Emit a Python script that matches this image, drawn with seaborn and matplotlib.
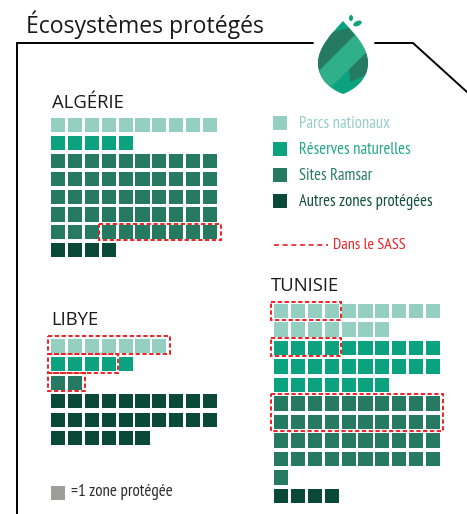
import numpy as np
import pandas as pd
import seaborn as sns
import matplotlib.pyplot as plt
from matplotlib.patches import Ellipse, PathPatch, Polygon
from matplotlib.path import Path

title = "Écosystèmes protégés"
categories = ["Parcs nationaux", "Réserves naturelles", "Sites Ramsar", "Autres zones protégées"]
colors = ["#94cfc1", "#0aa27f", "#267a62", "#0a4937"]
text_colors = ["#94cfc1", "#1fa884", "#267a62", "#0f4f3c"]
algerie = [10, 5, 50, 4]
libye = [7, 5, 2, 26]
tunisie = [17, 27, 41, 4]
sass_label = "Dans le SASS"
unit_label = "=1 zone protégée"
RED = "#ed2024"
NARROW = ["PT Sans Narrow", "Asap Condensed", "Open Sans"]


def waffle(counts, name, x0, y0, dy, dx=16.9, per_row=10):
    rows = []
    row = 0
    for cat, n in zip(categories, counts):
        for i in range(n):
            rows.append({"pays": name, "cat": cat,
                         "x": x0 + (i % per_row) * dx,
                         "y": y0 + (row + i // per_row) * dy})
        row += int(np.ceil(n / per_row))
    return pd.DataFrame(rows)


def dashed(ax, pts):
    ax.add_patch(Polygon(pts, closed=True, fill=False, ec=RED, lw=1.4, ls=(0, (2.2, 1.3))))


def leaf(ax):
    verts = [(343, 21), (333, 32), (318, 47), (318, 63), (318, 80), (332, 90), (343, 94),
             (354, 90), (368, 80), (368, 63), (368, 47), (353, 32), (343, 21)]
    codes = [Path.MOVETO] + [Path.CURVE4] * 12
    shape = PathPatch(Path(verts, codes), fc="#0aa27f", ec="none", zorder=3)
    ax.add_patch(shape)
    band = Polygon([(312, 78), (355, 35), (372, 47), (332, 86)], fc="#2fb08a", ec="none", zorder=5)
    ax.add_patch(band)
    band.set_clip_path(shape)
    for pts in ([(310, 80), (355, 35), (349, 28), (328, 33), (310, 50)],
                [(372, 47), (349, 68), (350, 82), (372, 72)]):
        part = Polygon(pts, fc="#267a62", ec="none", zorder=4)
        ax.add_patch(part)
        part.set_clip_path(shape)
    ax.add_patch(Ellipse((351, 18), 4, 6, fc="#0aa27f", ec="none", zorder=3))
    ax.add_patch(Ellipse((357.5, 23.5), 9, 5, angle=-25, fc="#0aa27f", ec="none", zorder=3))


def main():
    sns.set_style("white")
    plt.rcParams["font.family"] = ["Open Sans", "DejaVu Sans"]

    fig = plt.figure(figsize=(4.67, 5.14), dpi=100)
    ax = fig.add_axes([0, 0, 1, 1])

    df = pd.concat([
        waffle(algerie, "Algérie", 58, 125, 17.9),
        waffle(libye, "Libye", 58, 346, 18.4),
        waffle(tunisie, "Tunisie", 281, 311, 18.5),
    ])
    sns.scatterplot(data=df, x="x", y="y", hue="cat", hue_order=categories, palette=colors,
                    marker="s", s=102, linewidth=0, legend=False, ax=ax)

    # legende a la main
    leg_y = [123, 149, 175, 201]
    leg = pd.DataFrame({"cat": categories, "x": [280] * 4, "y": leg_y})
    sns.scatterplot(data=leg, x="x", y="y", hue="cat", hue_order=categories, palette=colors,
                    marker="s", s=102, linewidth=0, legend=False, ax=ax)
    for cat, col, y in zip(categories, text_colors, leg_y):
        ax.text(299, y + 1, cat, color=col, fontsize=11.9, family=NARROW, va="center")

    ax.plot([274, 328], [245, 245], color=RED, lw=1.2, ls=(0, (3, 2.2)))
    ax.text(333, 245, sass_label, color=RED, fontsize=11.5, family=NARROW, va="center")

    sns.scatterplot(x=[58], y=[493], color="#9d9d9c", marker="s", s=102, linewidth=0, legend=False, ax=ax)
    ax.text(71, 492, unit_label, color="#2b2b2b", fontsize=12.2, family=NARROW, va="center")

    ax.text(26, 33, title, fontsize=16.6, color="#1a1a1a")
    ax.text(52, 108, "ALGÉRIE", fontsize=13.3, color="#1a1a1a")
    ax.text(51, 325, "LIBYE", fontsize=13.3, color="#1a1a1a")
    ax.text(271, 291, "TUNISIE", fontsize=13.3, color="#1a1a1a")

    # cadre
    ax.plot([17, 17, 313], [514, 43, 43], color="black", lw=1.4, solid_joinstyle="miter")
    ax.plot([375, 413, 467], [43, 43, 92], color="black", lw=1.4, solid_joinstyle="miter")

    # zones dans le SASS
    dashed(ax, [(99, 224), (221, 224), (221, 240), (99, 240)])
    dashed(ax, [(48, 336), (170, 336), (170, 354), (48, 354)])
    dashed(ax, [(48, 354), (118, 354), (118, 373), (48, 373)])
    dashed(ax, [(48, 373), (85, 373), (85, 391), (48, 391)])
    dashed(ax, [(271, 302), (341, 302), (341, 320), (271, 320)])
    dashed(ax, [(271, 338), (341, 338), (341, 356), (271, 356)])
    dashed(ax, [(271, 394), (443, 394), (443, 431), (271, 431)])

    leaf(ax)

    ax.set_xlim(0, 467)
    ax.set_ylim(514, 0)
    ax.axis("off")
    fig.savefig("out.png", dpi=100, facecolor="white")


if __name__ == "__main__":
    main()
